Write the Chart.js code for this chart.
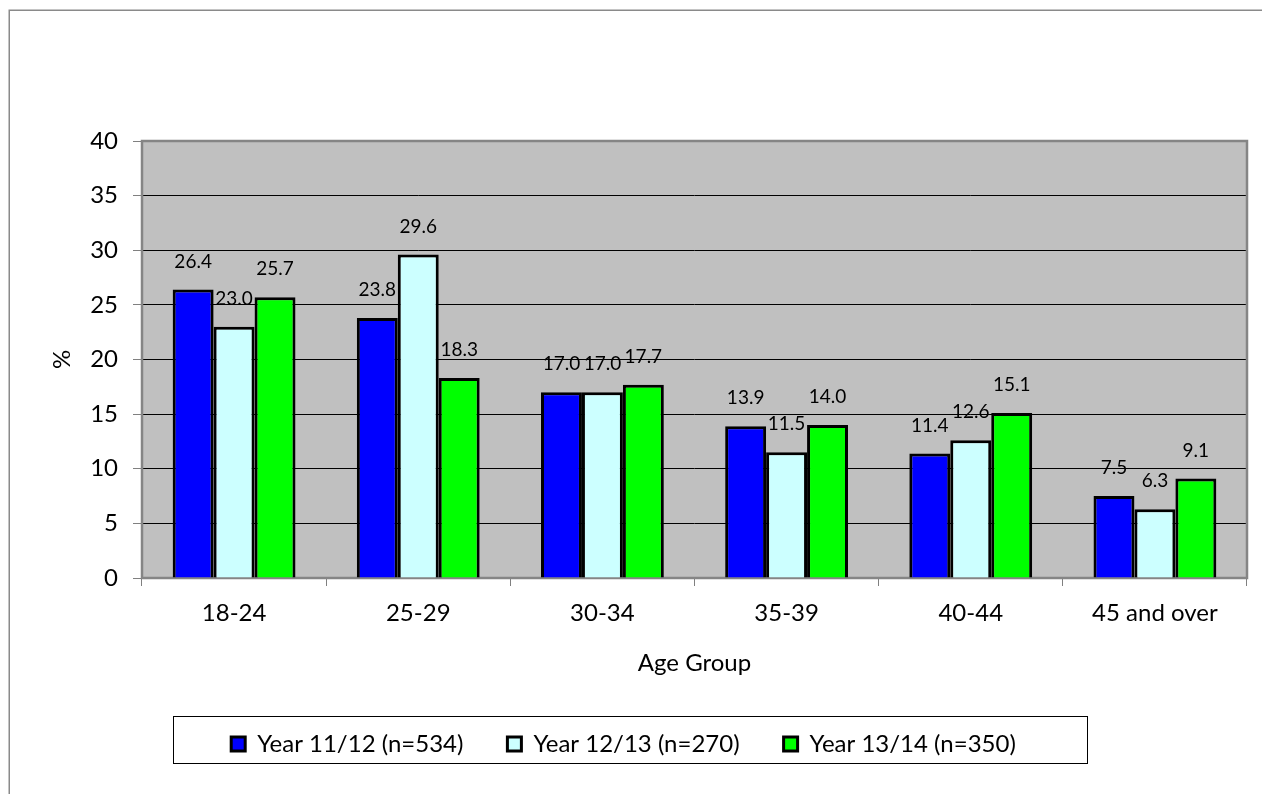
<!DOCTYPE html>
<html>
<head>
<meta charset="utf-8">
<script src="https://cdn.jsdelivr.net/npm/chart.js@4"></script>
<style>
  html, body { margin: 0; padding: 0; background: #fff; }
  canvas { display: block; }
</style>
</head>
<body>
<canvas id="ageChart" width="1262" height="794"></canvas>
<script>
const ageGroups = ['18-24', '25-29', '30-34', '35-39', '40-44', '45 and over'];
const year1112 = [26.4, 23.8, 17.0, 13.9, 11.4, 7.5];
const year1213 = [23.0, 29.6, 17.0, 11.5, 12.6, 6.3];
const year1314 = [25.7, 18.3, 17.7, 14.0, 15.1, 9.1];
const seriesNames = ['Year 11/12 (n=534)', 'Year 12/13 (n=270)', 'Year 13/14 (n=350)'];
const yTicks = [0, 5, 10, 15, 20, 25, 30, 35, 40];

const FONT = 'Lato, "Open Sans", sans-serif';

// plot background, frame and outer border
const framePlugin = {
  id: 'frame',
  beforeDraw(chart) {
    const {ctx, chartArea: a} = chart;
    ctx.save();
    ctx.fillStyle = '#c0c0c0';
    ctx.fillRect(a.left, a.top, a.right - a.left, a.bottom - a.top);
    ctx.strokeStyle = '#8a8a8a';
    ctx.lineWidth = 1.5;
    ctx.strokeRect(9.25, 10.25, 2000, 2000);
    ctx.restore();
  },
  beforeDatasetsDraw(chart) {
    const {ctx, chartArea: a} = chart;
    ctx.save();
    ctx.strokeStyle = '#858585';
    ctx.lineWidth = 2.5;
    ctx.strokeRect(a.left, a.top, a.right - a.left, a.bottom - a.top);
    ctx.restore();
  },
  afterDraw(chart) {
    const boxes = chart.legend && chart.legend.legendHitBoxes;
    if (!boxes || !boxes.length) return;
    const ctx = chart.ctx;
    let l = Infinity, r = -Infinity, c = 0;
    boxes.forEach(b => {
      l = Math.min(l, b.left);
      r = Math.max(r, b.left + b.width);
      c = b.top + b.height / 2;
    });
    ctx.save();
    ctx.strokeStyle = '#000';
    ctx.lineWidth = 1;
    ctx.strokeRect(Math.round(l - 58) + 0.5, Math.round(c - 28) + 0.5, Math.round(r - l + 129), 47);
    ctx.restore();
  }
};

// value labels above bars
const labelPlugin = {
  id: 'valueLabels',
  afterDatasetsDraw(chart) {
    const ctx = chart.ctx;
    ctx.save();
    ctx.font = '19px ' + FONT;
    ctx.fillStyle = '#000';
    ctx.textAlign = 'center';
    ctx.textBaseline = 'middle';
    chart.data.datasets.forEach((ds, i) => {
      chart.getDatasetMeta(i).data.forEach((bar, j) => {
        ctx.fillText(ds.data[j].toFixed(1), bar.x, bar.y - 28);
      });
    });
    ctx.restore();
  }
};

new Chart(document.getElementById('ageChart'), {
  type: 'bar',
  data: {
    labels: ageGroups,
    datasets: [
      { label: seriesNames[0], data: year1112, backgroundColor: '#0000ff', borderColor: '#000', borderWidth: 3 },
      { label: seriesNames[1], data: year1213, backgroundColor: '#ccffff', borderColor: '#000', borderWidth: 3 },
      { label: seriesNames[2], data: year1314, backgroundColor: '#00ff00', borderColor: '#000', borderWidth: 3 }
    ]
  },
  options: {
    responsive: false,
    animation: false,
    devicePixelRatio: 1,
    layout: { padding: { left: 0, right: 15, top: 141, bottom: 28 } },
    datasets: { bar: { categoryPercentage: 0.667, barPercentage: 1.0 } },
    plugins: {
      tooltip: { enabled: false },
      legend: {
        position: 'bottom',
        labels: {
          color: '#000',
          font: { family: FONT, size: 24 },
          boxWidth: 14,
          boxHeight: 14,
          padding: 44
        }
      }
    },
    scales: {
      x: {
        afterFit: s => { s.height = 110; },
        border: { display: false },
        grid: { drawOnChartArea: false, drawTicks: true, tickLength: 8, tickColor: '#808080', offset: true },
        ticks: { color: '#000', font: { family: FONT, size: 24 }, padding: 13 },
        title: { display: true, text: 'Age Group', color: '#000', font: { family: FONT, size: 24 }, padding: { top: 0, bottom: 10 } }
      },
      y: {
        min: 0,
        max: 40,
        afterFit: s => { s.width = 142; },
        afterBuildTicks: s => { s.ticks = yTicks.map(v => ({ value: v })); },
        border: { display: false },
        grid: {
          color: c => (c.tick && (c.tick.value === 0 || c.tick.value === 40)) ? 'rgba(0,0,0,0)' : '#000',
          lineWidth: 1,
          drawTicks: true,
          tickLength: 9,
          tickColor: '#808080'
        },
        ticks: { color: '#000', font: { family: FONT, size: 24 }, padding: 15 },
        title: { display: true, text: '%', color: '#000', font: { family: FONT, size: 24 }, padding: { top: 48, bottom: 0 } }
      }
    }
  },
  plugins: [framePlugin, labelPlugin]
});
</script>
</body>
</html>
